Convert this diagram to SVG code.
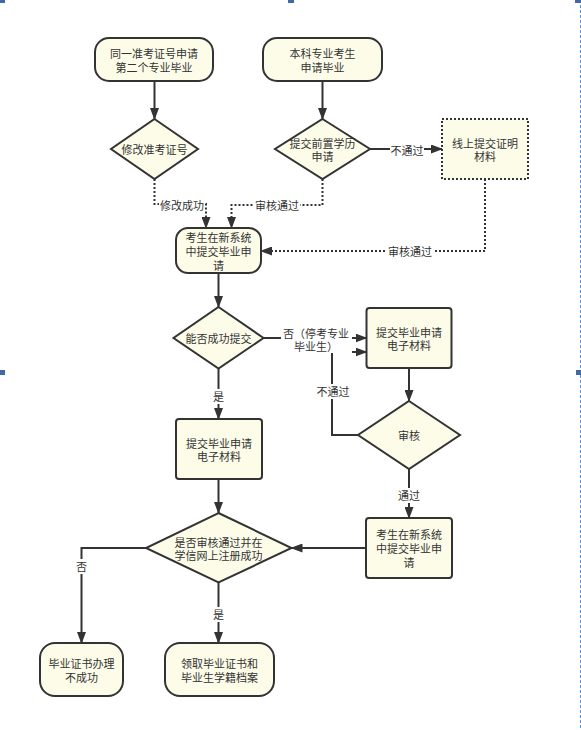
<svg xmlns="http://www.w3.org/2000/svg" width="581" height="730" viewBox="0 0 581 730">
<style>
.n{fill:#fcfce9;stroke:#333;stroke-width:2}
.d{fill:#fcfce9;stroke:#333;stroke-width:2;stroke-dasharray:2 2}
.c{fill:none;stroke:#333;stroke-width:2}
.dc{fill:none;stroke:#333;stroke-width:2;stroke-dasharray:2 2}
.t{font-family:"Noto Sans CJK SC","Noto Sans",sans-serif;font-size:11px;fill:#333;text-anchor:middle;dominant-baseline:central}
.bg{fill:#fff}
.h{fill:#3f6aa6}
</style>
<defs>
<marker id="ar" markerUnits="userSpaceOnUse" markerWidth="12" markerHeight="9" viewBox="0 0 12 9" refX="11" refY="4.5" orient="auto">
<path d="M0,0 L12,4.5 L0,9 z" fill="#333"/>
</marker>
</defs>
<rect width="581" height="730" fill="#fff"/>
<g id="selection">
<line x1="580.5" y1="0" x2="580.5" y2="730" stroke="#5b8ee6" stroke-width="1" stroke-dasharray="3 2"/>
<rect class="h" x="0" y="0" width="5" height="3"/>
<rect class="h" x="288" y="0" width="6" height="3"/>
<rect class="h" x="575" y="0" width="6" height="3"/>
<rect class="h" x="0" y="370" width="5" height="5"/>
<rect class="h" x="576" y="370" width="5" height="5"/>
</g>
<g id="connectors">
<path class="c" d="M154.5,81 V119" marker-end="url(#ar)"/>
<path class="c" d="M322.5,81 V119" marker-end="url(#ar)"/>
<path class="c" d="M370,149 H442" marker-end="url(#ar)"/>
<path class="dc" d="M154.5,179 V204 H206 V228" marker-end="url(#ar)"/>
<path class="dc" d="M322.5,179 V205 H231.5 V228" marker-end="url(#ar)"/>
<path class="dc" d="M485,179 V251 H261" marker-end="url(#ar)"/>
<path class="c" d="M218.5,273 V307" marker-end="url(#ar)"/>
<path class="c" d="M263.5,338 H366.5" marker-end="url(#ar)"/>
<path class="c" d="M409,368 V401" marker-end="url(#ar)"/>
<path class="c" d="M358,435 H332 V352 H366.5" marker-end="url(#ar)"/>
<path class="c" d="M409,469 V518" marker-end="url(#ar)"/>
<path class="c" d="M218.5,368.5 V419" marker-end="url(#ar)"/>
<path class="c" d="M218.5,479 V513" marker-end="url(#ar)"/>
<path class="c" d="M366,548 H291.5" marker-end="url(#ar)"/>
<path class="c" d="M146,548 H81.5 V643" marker-end="url(#ar)"/>
<path class="c" d="M218.5,582.5 V643" marker-end="url(#ar)"/>
<rect class="bg" x="390" y="142" width="34" height="15"/>
<text class="t" x="407" y="150">不通过</text>
<rect class="bg" x="159" y="198" width="46" height="15"/>
<text class="t" x="182" y="205">修改成功</text>
<rect class="bg" x="254" y="198" width="46" height="15"/>
<text class="t" x="277" y="205">审核通过</text>
<rect class="bg" x="387" y="244" width="46" height="15"/>
<text class="t" x="410" y="251">审核通过</text>
<rect class="bg" x="281" y="326" width="71" height="27"/>
<text class="t"><tspan x="316" y="333">否（停考专业</tspan><tspan x="316" y="346">毕业生）</tspan></text>
<rect class="bg" x="316" y="384" width="34" height="15"/>
<text class="t" x="333" y="391">不通过</text>
<rect class="bg" x="397" y="488" width="24" height="15"/>
<text class="t" x="409" y="495">通过</text>
<rect class="bg" x="211" y="389" width="15" height="15"/>
<text class="t" x="218.5" y="396">是</text>
<rect class="bg" x="74" y="559" width="15" height="15"/>
<text class="t" x="81.5" y="566">否</text>
<rect class="bg" x="211" y="607" width="15" height="15"/>
<text class="t" x="218.5" y="614">是</text>
</g>
<g id="n1">
<rect class="n" x="95" y="38" width="118" height="43" rx="14"/>
<text class="t"><tspan x="154" y="53">同一准考证号申请</tspan><tspan x="154" y="67">第二个专业毕业</tspan></text>
</g>
<g id="n2">
<rect class="n" x="263" y="38" width="119" height="43" rx="14"/>
<text class="t"><tspan x="322.5" y="53">本科专业考生</tspan><tspan x="322.5" y="67">申请毕业</tspan></text>
</g>
<g id="n3">
<polygon class="n" points="154.5,119 198,149 154.5,179 111,149"/>
<text class="t" x="154.5" y="149">修改准考证号</text>
</g>
<g id="n4">
<polygon class="n" points="322.5,119 370,149 322.5,179 275,149"/>
<text class="t"><tspan x="322.5" y="143">提交前置学历</tspan><tspan x="322.5" y="156">申请</tspan></text>
</g>
<g id="n5">
<rect class="d" x="442" y="119" width="86" height="60"/>
<text class="t"><tspan x="485" y="143">线上提交证明</tspan><tspan x="485" y="156">材料</tspan></text>
</g>
<g id="n6">
<rect class="n" x="176" y="228" width="85" height="45" rx="12"/>
<text class="t"><tspan x="218.5" y="237">考生在新系统</tspan><tspan x="218.5" y="251">中提交毕业申</tspan><tspan x="218.5" y="264.5">请</tspan></text>
</g>
<g id="n7">
<polygon class="n" points="218.5,307 263.5,338 218.5,368.5 173.5,338"/>
<text class="t" x="218.5" y="338">能否成功提交</text>
</g>
<g id="n8">
<rect class="n" x="366.5" y="308" width="85" height="60" rx="3"/>
<text class="t"><tspan x="409" y="332">提交毕业申请</tspan><tspan x="409" y="345">电子材料</tspan></text>
</g>
<g id="n9">
<polygon class="n" points="409,401 460,435 409,469 358,435"/>
<text class="t" x="409" y="435">审核</text>
</g>
<g id="n10">
<rect class="n" x="176" y="419" width="86" height="60" rx="3"/>
<text class="t"><tspan x="219" y="443">提交毕业申请</tspan><tspan x="219" y="456">电子材料</tspan></text>
</g>
<g id="n11">
<rect class="n" x="366" y="518" width="86" height="60" rx="3"/>
<text class="t"><tspan x="409" y="534">考生在新系统</tspan><tspan x="409" y="548">中提交毕业申</tspan><tspan x="409" y="561.5">请</tspan></text>
</g>
<g id="n12">
<polygon class="n" points="218.5,513 291.5,548 218.5,582.5 146,548"/>
<text class="t"><tspan x="218.5" y="541.5">是否审核通过并在</tspan><tspan x="218.5" y="555">学信网上注册成功</tspan></text>
</g>
<g id="n13">
<rect class="n" x="40" y="643" width="83" height="53" rx="15"/>
<text class="t"><tspan x="81.5" y="663">毕业证书办理</tspan><tspan x="81.5" y="677">不成功</tspan></text>
</g>
<g id="n14">
<rect class="n" x="165" y="643" width="109" height="53" rx="15"/>
<text class="t"><tspan x="219.5" y="663">领取毕业证书和</tspan><tspan x="219.5" y="677">毕业生学籍档案</tspan></text>
</g>
</svg>
